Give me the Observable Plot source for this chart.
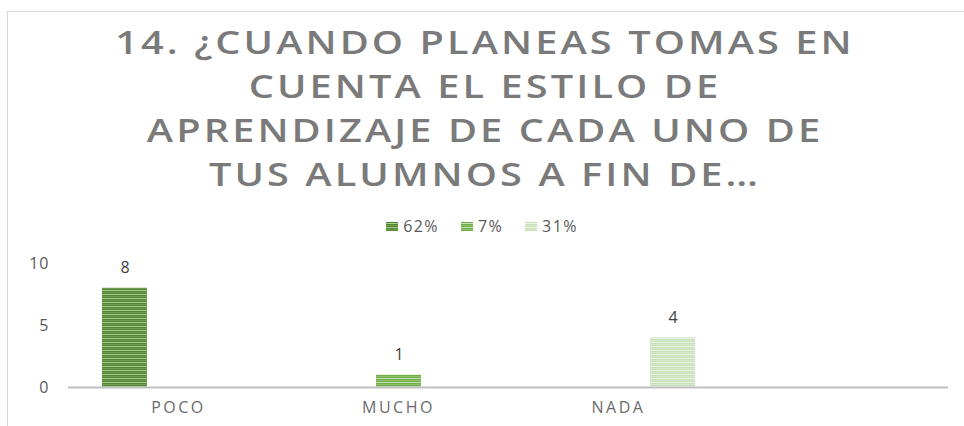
<!DOCTYPE html>
<html>
<head>
<meta charset="utf-8">
<script src="https://cdn.jsdelivr.net/npm/d3@7"></script>
<script src="https://cdn.jsdelivr.net/npm/@observablehq/plot@0.6"></script>
<style>
  html, body { margin: 0; padding: 0; background: #fff; width: 964px; height: 426px; overflow: hidden; font-family: "Open Sans", "DejaVu Sans", sans-serif; }
  #frame { position: absolute; left: 7px; top: 11px; width: 1100px; height: 600px; border: 1.5px solid #d9d9d9; }
  #title { position: absolute; left: 0; top: 20px; width: 970px; text-align: center; font-family: "Open Sans", sans-serif; font-weight: 600; font-size: 32px; line-height: 44px; letter-spacing: 2.5px; color: #7a7a7a; transform: scaleX(1.24); transform-origin: 485px 0; }
  #legend { position: absolute; left: 0; top: 215px; width: 964px; display: flex; justify-content: center; align-items: center; font-size: 16px; letter-spacing: 1.4px; color: #595959; }
  #legend .item { display: flex; align-items: center; margin: 0 11px; }
  #legend .sw { width: 12px; height: 9px; margin-right: 5px; }
  #chart { position: absolute; left: 0; top: 245px; }
  #chart g[aria-label="fx-axis tick label"] text { letter-spacing: 2.5px; }
  #chart g[aria-label="y-axis tick label"] text { letter-spacing: 1px; }
</style>
</head>
<body>
<div id="frame"></div>
<div id="title">14. ¿CUANDO PLANEAS TOMAS EN<br>CUENTA EL ESTILO DE<br>APRENDIZAJE DE CADA UNO DE<br>TUS ALUMNOS A FIN DE…</div>
<div id="legend"></div>
<div id="chart"></div>
<svg width="0" height="0" style="position:absolute">
  <defs>
    <pattern id="p62" patternUnits="userSpaceOnUse" width="4" height="4">
      <rect width="4" height="4" fill="#548235"/>
      <rect y="1" width="4" height="1" fill="#a9d18e"/>
      <rect y="3" width="4" height="1" fill="#6f9f4f"/>
    </pattern>
    <pattern id="p7" patternUnits="userSpaceOnUse" width="4" height="4">
      <rect width="4" height="4" fill="#70ad47"/>
      <rect y="1" width="4" height="1" fill="#c5e0b4"/>
      <rect y="3" width="4" height="1" fill="#8fc06b"/>
    </pattern>
    <pattern id="p31" patternUnits="userSpaceOnUse" width="4" height="4">
      <rect width="4" height="4" fill="#c5e0b4"/>
      <rect y="1" width="4" height="1" fill="#eef6e8"/>
      <rect y="3" width="4" height="1" fill="#d6ead0"/>
    </pattern>
  </defs>
</svg>
<script>
const categories = ["POCO", "MUCHO", "NADA", " "];
const series = ["62%", "7%", "31%"];
const seriesCategory = ["POCO", "MUCHO", "NADA"];
const seriesValues = [8, 1, 4];
const yTicks = [0, 5, 10];
const seriesFills = ["url(#p62)", "url(#p7)", "url(#p31)"];

const data = series.map((s, i) => ({series: s, category: seriesCategory[i], value: seriesValues[i]}));
const baseline = categories.map(c => ({category: c, value: 0}));

const chart = Plot.plot({
  width: 964,
  height: 181,
  marginLeft: 67,
  marginRight: 16,
  marginTop: 18,
  marginBottom: 39,
  style: {fontFamily: "Open Sans, sans-serif", fontSize: "16px", color: "#595959", background: "transparent"},
  fx: {domain: categories, padding: 0, label: null, axis: null},
  x: {domain: series, paddingInner: 0.17, paddingOuter: 0.62, axis: null},
  y: {domain: [0, 10], ticks: yTicks, label: null},
  color: {domain: series, range: seriesFills},
  marks: [
    Plot.axisY({ticks: yTicks, tickSize: 0, tickPadding: 19, label: null, fontSize: 16, fill: "#595959"}),
    Plot.axisFx({domain: categories, tickSize: 0, tickPadding: 14, label: null, fontSize: 16, fill: "#6b6b6b", anchor: "bottom"}),
    Plot.barY(data, {fx: "category", x: "series", y: "value", fill: "series"}),
    Plot.ruleY(baseline, {fx: "category", y: "value", stroke: "#bfbfbf", strokeWidth: 2}),
    Plot.text(data, {fx: "category", x: "series", y: "value", text: d => String(d.value), dy: -20, fontSize: 16, fill: "#404040"})
  ]
});
document.getElementById("chart").appendChild(chart);

const legendEl = document.getElementById("legend");
series.forEach((s, i) => {
  const item = document.createElement("div");
  item.className = "item";
  item.innerHTML = `<svg class="sw" width="12" height="9"><rect width="12" height="9" fill="${seriesFills[i]}"/></svg><span>${s}</span>`;
  legendEl.appendChild(item);
});
</script>
</body>
</html>
